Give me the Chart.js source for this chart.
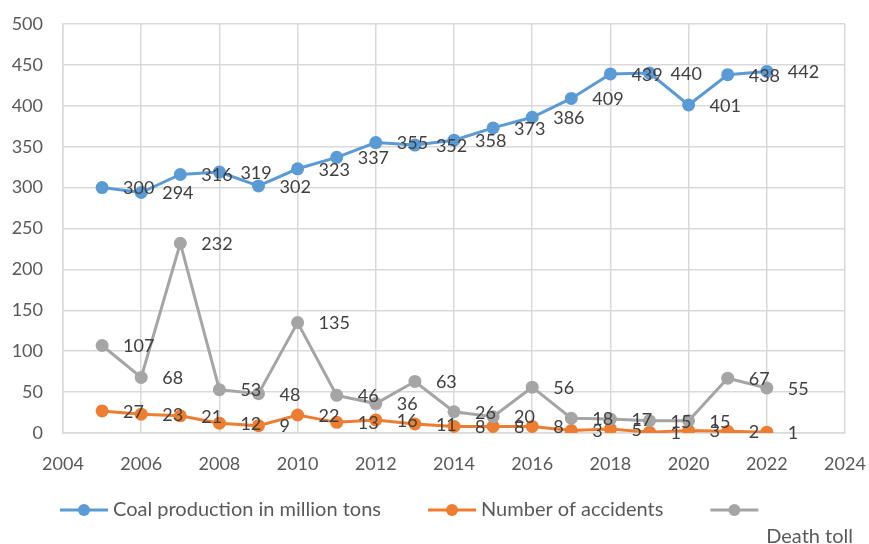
<!DOCTYPE html>
<html>
<head>
<meta charset="utf-8">
<script src="https://cdn.jsdelivr.net/npm/chart.js@4/dist/chart.umd.min.js"></script>
<style>
  html, body { margin: 0; padding: 0; background: #ffffff; }
  #wrap { width: 869px; height: 544px; }
</style>
</head>
<body>
<div id="wrap"><canvas id="c" width="869" height="544"></canvas></div>
<script>
// Years and series values
const years = [2005, 2006, 2007, 2008, 2009, 2010, 2011, 2012, 2013, 2014, 2015, 2016, 2017, 2018, 2019, 2020, 2021, 2022];
const coalProduction = [300, 294, 316, 319, 302, 323, 337, 355, 352, 358, 373, 386, 409, 439, 440, 401, 438, 442];
const accidents = [27, 23, 21, 12, 9, 22, 13, 16, 11, 8, 8, 8, 3, 5, 1, 3, 2, 1];
const deathToll = [107, 68, 232, 53, 48, 135, 46, 36, 63, 26, 20, 56, 18, 17, 15, 15, 67, 55];
const seriesNames = ['Coal production in million tons', 'Number of accidents', 'Death toll'];

const FONT = 'Lato, "Open Sans", sans-serif';
const toXY = vals => vals.map((v, i) => ({ x: years[i], y: v }));

// Value labels drawn to the right of every point
const valueLabels = {
  id: 'valueLabels',
  afterDatasetsDraw(chart) {
    const ctx = chart.ctx;
    ctx.save();
    ctx.font = '18px ' + FONT;
    ctx.fillStyle = '#404040';
    ctx.textAlign = 'left';
    ctx.textBaseline = 'middle';
    chart.data.datasets.forEach((ds, di) => {
      const meta = chart.getDatasetMeta(di);
      meta.data.forEach((pt, i) => {
        ctx.fillText(String(ds.data[i].y), pt.x + 21, pt.y + 1);
      });
    });
    ctx.restore();
  }
};

// Legend drawn below the axis; an entry whose text runs past the legend box
// keeps its marker on the row and puts its text on the next line, right-aligned
const bottomLegend = {
  id: 'bottomLegend',
  afterDraw(chart) {
    const ctx = chart.ctx;
    ctx.save();
    ctx.font = '20px ' + FONT;
    ctx.textBaseline = 'middle';
    const rowY = 510, boxRight = 830, textRight = 853, markerLen = 48, gap = 5, itemGap = 47;
    let x = 60;
    chart.data.datasets.forEach(ds => {
      const label = ds.label;
      const w = ctx.measureText(label).width;
      ctx.strokeStyle = ds.borderColor;
      ctx.lineWidth = 3;
      ctx.beginPath();
      ctx.moveTo(x, rowY);
      ctx.lineTo(x + markerLen, rowY);
      ctx.stroke();
      ctx.fillStyle = ds.borderColor;
      ctx.beginPath();
      ctx.arc(x + markerLen / 2, rowY, 6, 0, Math.PI * 2);
      ctx.fill();
      ctx.fillStyle = '#595959';
      if (x + markerLen + gap + w > boxRight) {
        ctx.textAlign = 'right';
        ctx.fillText(label, textRight, rowY + 27);
        x = textRight;
      } else {
        ctx.textAlign = 'left';
        ctx.fillText(label, x + markerLen + gap, rowY);
        x += markerLen + gap + w + itemGap;
      }
    });
    ctx.restore();
  }
};

const mk = (label, vals, color, order) => ({
  label,
  data: toXY(vals),
  borderColor: color,
  backgroundColor: color,
  borderWidth: 3,
  pointRadius: 6.5,
  pointHoverRadius: 6.5,
  pointBackgroundColor: color,
  pointBorderColor: color,
  pointBorderWidth: 0,
  tension: 0,
  order
});

new Chart(document.getElementById('c'), {
  type: 'line',
  data: {
    datasets: [
      mk(seriesNames[0], coalProduction, '#5B9BD5', 2),
      mk(seriesNames[1], accidents, '#ED7D31', 1),
      mk(seriesNames[2], deathToll, '#A5A5A5', 0)
    ]
  },
  options: {
    responsive: false,
    animation: false,
    layout: { padding: { top: 24, right: 24, left: 0, bottom: 0 } },
    plugins: { legend: { display: false }, tooltip: { enabled: false } },
    scales: {
      x: {
        type: 'linear',
        min: 2004,
        max: 2024,
        afterFit(s) { s.height = 111; s.paddingLeft = 0; s.paddingRight = 0; },
        ticks: {
          stepSize: 2,
          padding: 20,
          color: '#595959',
          font: { family: FONT, size: 18 },
          callback: v => String(v),
          maxRotation: 0
        },
        grid: { color: '#D9D9D9', lineWidth: 1.5, drawTicks: false },
        border: { color: '#D9D9D9', width: 1.5 }
      },
      y: {
        min: 0,
        max: 500,
        afterFit(s) { s.width = 63; s.paddingTop = 0; s.paddingBottom = 0; },
        ticks: {
          stepSize: 50,
          padding: 20,
          color: '#595959',
          font: { family: FONT, size: 18 }
        },
        grid: { color: '#D9D9D9', lineWidth: 1.5, drawTicks: false },
        border: { color: '#D9D9D9', width: 1.5 }
      }
    }
  },
  plugins: [valueLabels, bottomLegend]
});
</script>
</body>
</html>
